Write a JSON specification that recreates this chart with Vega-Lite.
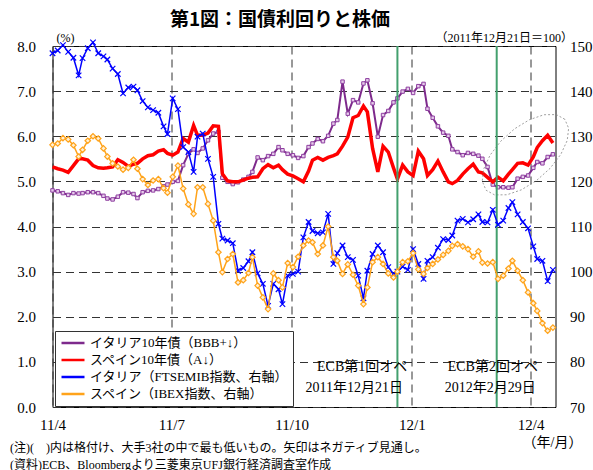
{
"$schema": "https://vega.github.io/schema/vega-lite/v6.json",
"width": 503, "height": 361,
"autosize": {"type": "none"},
"padding": {"left": 52.5, "top": 46, "right": 37.5, "bottom": 63},
"background": "white",
"config": {"view": {"stroke": "black", "strokeWidth": 1}, "font": "Liberation Serif, Noto Sans CJK JP"},
"title": {"text": "第1図：国債利回りと株価", "font": "Noto Sans CJK JP", "fontSize": 19, "fontWeight": "bold", "anchor": "middle", "frame": "group", "dx": -24, "offset": 1, "color": "black"},
"datasets": {
"s": [
{"d":"2011-04-01","a":4.80,"b":5.32,"c":148.4,"e":128.1},
{"d":"2011-04-05","a":4.78,"b":5.28,"c":149.0,"e":128.4},
{"d":"2011-04-09","a":4.74,"b":5.25,"c":150.2,"e":129.6},
{"d":"2011-04-13","a":4.70,"b":5.20,"c":148.7,"e":129.3},
{"d":"2011-04-17","a":4.74,"b":5.35,"c":147.4,"e":128.0},
{"d":"2011-04-21","a":4.73,"b":5.50,"c":143.5,"e":125.5},
{"d":"2011-04-24","a":4.74,"b":5.50,"c":147.3,"e":127.0},
{"d":"2011-04-28","a":4.76,"b":5.47,"c":149.5,"e":129.0},
{"d":"2011-05-02","a":4.76,"b":5.35,"c":150.8,"e":130.0},
{"d":"2011-05-06","a":4.74,"b":5.30,"c":148.4,"e":129.5},
{"d":"2011-05-10","a":4.68,"b":5.29,"c":147.7,"e":127.3},
{"d":"2011-05-13","a":4.62,"b":5.30,"c":147.0,"e":125.5},
{"d":"2011-05-17","a":4.60,"b":5.32,"c":145.0,"e":124.0},
{"d":"2011-05-21","a":4.66,"b":5.48,"c":143.8,"e":123.3},
{"d":"2011-05-25","a":4.76,"b":5.42,"c":139.5,"e":122.6},
{"d":"2011-05-29","a":4.75,"b":5.33,"c":140.8,"e":123.0},
{"d":"2011-06-02","a":4.72,"b":5.38,"c":141.0,"e":124.8},
{"d":"2011-06-05","a":4.63,"b":5.40,"c":140.2,"e":122.8},
{"d":"2011-06-09","a":4.76,"b":5.50,"c":137.8,"e":120.5},
{"d":"2011-06-13","a":4.79,"b":5.57,"c":136.4,"e":119.2},
{"d":"2011-06-17","a":4.80,"b":5.59,"c":135.8,"e":120.2},
{"d":"2011-06-21","a":4.83,"b":5.67,"c":135.2,"e":120.5},
{"d":"2011-06-25","a":4.89,"b":5.70,"c":132.2,"e":118.5},
{"d":"2011-06-28","a":4.93,"b":5.62,"c":130.5,"e":117.5},
{"d":"2011-07-02","a":4.99,"b":5.58,"c":138.4,"e":121.0},
{"d":"2011-07-06","a":5.01,"b":5.65,"c":136.0,"e":123.5},
{"d":"2011-07-10","a":5.36,"b":5.95,"c":127.6,"e":118.4},
{"d":"2011-07-14","a":5.61,"b":5.87,"c":126.5,"e":114.9},
{"d":"2011-07-18","a":5.71,"b":6.24,"c":122.1,"e":112.8},
{"d":"2011-07-21","a":5.63,"b":6.02,"c":129.9,"e":118.7},
{"d":"2011-07-25","a":5.73,"b":6.02,"c":130.6,"e":118.7},
{"d":"2011-07-29","a":5.91,"b":6.07,"c":125.0,"e":115.0},
{"d":"2011-08-02","a":6.06,"b":6.23,"c":121.0,"e":111.3},
{"d":"2011-08-06","a":6.10,"b":6.22,"c":110.6,"e":104.3},
{"d":"2011-08-09","a":5.08,"b":5.17,"c":107.3,"e":99.9},
{"d":"2011-08-13","a":4.99,"b":5.01,"c":106.9,"e":102.8},
{"d":"2011-08-17","a":4.94,"b":4.99,"c":106.3,"e":103.9},
{"d":"2011-08-21","a":4.98,"b":4.99,"c":100.2,"e":97.6},
{"d":"2011-08-25","a":5.04,"b":5.03,"c":100.8,"e":98.1},
{"d":"2011-08-29","a":5.10,"b":5.07,"c":102.3,"e":99.7},
{"d":"2011-09-01","a":5.21,"b":5.09,"c":104.3,"e":103.2},
{"d":"2011-09-05","a":5.53,"b":5.10,"c":99.6,"e":96.9},
{"d":"2011-09-09","a":5.47,"b":5.28,"c":97.3,"e":94.3},
{"d":"2011-09-13","a":5.56,"b":5.37,"c":92.4,"e":91.7},
{"d":"2011-09-17","a":5.61,"b":5.30,"c":97.3,"e":99.6},
{"d":"2011-09-21","a":5.76,"b":5.36,"c":96.1,"e":98.1},
{"d":"2011-09-24","a":5.69,"b":5.26,"c":92.8,"e":96.5},
{"d":"2011-09-28","a":5.61,"b":5.16,"c":99.1,"e":101.9},
{"d":"2011-10-02","a":5.58,"b":5.12,"c":99.5,"e":101.0},
{"d":"2011-10-06","a":5.52,"b":5.06,"c":100.0,"e":103.3},
{"d":"2011-10-10","a":5.56,"b":4.99,"c":107.6,"e":105.8},
{"d":"2011-10-14","a":5.76,"b":5.23,"c":111.0,"e":106.9},
{"d":"2011-10-17","a":5.84,"b":5.47,"c":109.0,"e":106.5},
{"d":"2011-10-21","a":5.94,"b":5.53,"c":108.5,"e":103.9},
{"d":"2011-10-25","a":5.89,"b":5.47,"c":108.7,"e":105.8},
{"d":"2011-10-29","a":6.01,"b":5.53,"c":112.8,"e":110.0},
{"d":"2011-11-02","a":6.28,"b":5.57,"c":101.7,"e":103.2},
{"d":"2011-11-05","a":6.36,"b":5.61,"c":104.1,"e":102.4},
{"d":"2011-11-09","a":7.21,"b":5.78,"c":105.8,"e":99.5},
{"d":"2011-11-13","a":6.50,"b":5.98,"c":103.2,"e":101.6},
{"d":"2011-11-17","a":6.80,"b":6.41,"c":102.6,"e":99.3},
{"d":"2011-11-21","a":6.75,"b":6.46,"c":99.1,"e":96.9},
{"d":"2011-11-25","a":7.17,"b":6.67,"c":94.1,"e":92.8},
{"d":"2011-11-28","a":7.24,"b":6.54,"c":100.2,"e":96.5},
{"d":"2011-12-02","a":6.73,"b":5.73,"c":103.9,"e":102.1},
{"d":"2011-12-06","a":5.99,"b":5.21,"c":105.8,"e":103.2},
{"d":"2011-12-10","a":6.47,"b":5.78,"c":104.3,"e":101.7},
{"d":"2011-12-14","a":6.56,"b":5.65,"c":101.0,"e":99.6},
{"d":"2011-12-18","a":6.75,"b":5.30,"c":99.5,"e":98.7},
{"d":"2011-12-21","a":6.84,"b":5.05,"c":100.0,"e":100.0},
{"d":"2011-12-25","a":6.99,"b":5.36,"c":101.1,"e":102.1},
{"d":"2011-12-29","a":7.05,"b":5.21,"c":100.4,"e":102.3},
{"d":"2012-01-02","a":6.96,"b":5.13,"c":105.0,"e":104.1},
{"d":"2012-01-06","a":7.11,"b":5.67,"c":101.7,"e":100.5},
{"d":"2012-01-10","a":7.16,"b":5.50,"c":98.4,"e":99.5},
{"d":"2012-01-13","a":6.61,"b":5.13,"c":102.4,"e":100.8},
{"d":"2012-01-17","a":6.41,"b":5.26,"c":103.2,"e":101.7},
{"d":"2012-01-21","a":6.22,"b":5.45,"c":105.3,"e":102.7},
{"d":"2012-01-25","a":6.08,"b":5.21,"c":107.2,"e":103.7},
{"d":"2012-01-29","a":6.01,"b":4.99,"c":107.0,"e":104.6},
{"d":"2012-02-01","a":5.71,"b":4.95,"c":108.0,"e":105.7},
{"d":"2012-02-05","a":5.65,"b":5.02,"c":111.3,"e":106.1},
{"d":"2012-02-09","a":5.58,"b":5.16,"c":111.7,"e":105.6},
{"d":"2012-02-13","a":5.63,"b":5.28,"c":110.9,"e":105.0},
{"d":"2012-02-17","a":5.61,"b":5.38,"c":111.6,"e":103.3},
{"d":"2012-02-21","a":5.57,"b":5.21,"c":112.7,"e":104.5},
{"d":"2012-02-24","a":5.50,"b":5.19,"c":111.0,"e":102.0},
{"d":"2012-02-28","a":5.32,"b":5.09,"c":110.9,"e":101.8},
{"d":"2012-03-03","a":4.93,"b":4.99,"c":113.7,"e":102.1},
{"d":"2012-03-07","a":4.87,"b":5.09,"c":110.4,"e":98.4},
{"d":"2012-03-11","a":4.87,"b":5.01,"c":111.3,"e":99.1},
{"d":"2012-03-15","a":4.86,"b":5.16,"c":114.1,"e":100.7},
{"d":"2012-03-18","a":4.87,"b":5.26,"c":115.4,"e":102.4},
{"d":"2012-03-22","a":5.06,"b":5.40,"c":112.7,"e":100.2},
{"d":"2012-03-26","a":5.10,"b":5.41,"c":111.0,"e":98.1},
{"d":"2012-03-30","a":5.13,"b":5.36,"c":109.6,"e":95.4},
{"d":"2012-04-03","a":5.30,"b":5.54,"c":105.6,"e":93.0},
{"d":"2012-04-06","a":5.43,"b":5.75,"c":102.8,"e":91.3},
{"d":"2012-04-10","a":5.40,"b":5.90,"c":102.4,"e":88.6},
{"d":"2012-04-14","a":5.54,"b":6.02,"c":97.9,"e":86.9},
{"d":"2012-04-18","a":5.60,"b":5.85,"c":100.4,"e":87.6}
],
"ecb": [{"d":"2011-12-21"},{"d":"2012-03-06"}],
"ann": [
{"d":"2011-11-24","v":0.89,"t":"ECB第1回オペ"},
{"d":"2011-11-18","v":0.42,"t":"2011年12月21日"},
{"d":"2012-03-03","v":0.89,"t":"ECB第2回オペ"},
{"d":"2012-03-01","v":0.42,"t":"2012年2月29日"}
],
"ell": [{"d":"2012-03-28","v":5.59}]
},
"data": {"name": "s"},
"layer": [
{
"encoding": {"x": {"field": "d", "type": "temporal", "scale": {"type": "utc", "domain": [{"year":2011,"month":4,"date":1,"utc":true},{"year":2012,"month":4,"date":20,"utc":true}]},
  "axis": {"values": [{"year":2011,"month":4,"date":1,"utc":true},{"year":2011,"month":7,"date":1,"utc":true},{"year":2011,"month":10,"date":1,"utc":true},{"year":2012,"month":1,"date":1,"utc":true},{"year":2012,"month":4,"date":1,"utc":true}],
   "format": "%y/%-m", "labelFont": "Liberation Serif", "labelFontSize": 15, "labelColor": "black", "labelPadding": 10, "labelFlush": false, "labelOverlap": false,
   "ticks": false, "domain": false, "grid": true, "gridDash": [8,5], "gridColor": "#333",
   "title": ["(注)(　)内は格付け、大手3社の中で最も低いもの。矢印はネガティブ見通し。", "(資料)ECB、Bloombergより三菱東京UFJ銀行経済調査室作成"],
   "titleX": -43, "titleY": 44, "titleAlign": "left", "titleBaseline": "alphabetic", "titleFont": "Liberation Serif, Noto Sans CJK JP", "titleFontSize": 12, "titleFontWeight": "normal", "titleColor": "black", "titleLineHeight": 17}}},
"layer": [
 {"mark": {"type": "line", "strokeWidth": 2}, "encoding": {
   "y": {"field": "a", "type": "quantitative", "scale": {"domain": [0, 8], "nice": false, "zero": false},
     "axis": {"values": [0,1,2,3,4,5,6,7,8], "format": ".1f", "labelFont": "Liberation Serif", "labelFontSize": 15, "labelColor": "black", "labelPadding": 17, "labelFlush": false, "ticks": false, "domain": false, "grid": true, "gridDash": [8,5], "gridColor": "#333",
       "title": "(%)", "titleAngle": 0, "titleX": 12.5, "titleY": -9, "titleAlign": "center", "titleBaseline": "middle", "titleFont": "Liberation Serif", "titleFontSize": 12, "titleFontWeight": "normal", "titleColor": "black"}},
   "color": {"datum": "イタリア10年債（BBB+↓）", "type": "nominal",
     "scale": {"domain": ["イタリア10年債（BBB+↓）", "スペイン10年債（A↓）", "イタリア（FTSEMIB指数、右軸）", "スペイン（IBEX指数、右軸）"], "range": ["#7E2A8C", "#FF0000", "#0000FF", "#FFA31A"]},
     "legend": {"orient": "none", "legendX": 2.5, "legendY": 285, "title": null, "direction": "vertical", "symbolType": "stroke", "symbolSize": 529, "symbolStrokeWidth": 2.5,
       "labelFont": "Liberation Serif, Noto Sans CJK JP", "labelFontSize": 13, "labelColor": "black", "labelOffset": 4, "labelLimit": 0,
       "strokeColor": "#333", "fillColor": "white", "padding": 5, "rowPadding": 3, "clipHeight": 14}}}},
 {"mark": {"type": "point", "shape": "square", "size": 12, "filled": true, "fill": "#E6CBEA", "stroke": "#8E3FA0", "strokeWidth": 1, "opacity": 1}, "encoding": {"y": {"field": "a", "type": "quantitative"}}},
 {"mark": {"type": "line", "strokeWidth": 3.5}, "encoding": {"y": {"field": "b", "type": "quantitative"}, "color": {"datum": "スペイン10年債（A↓）", "type": "nominal"}}},
 {"data": {"name": "ell"}, "mark": {"type": "point", "shape": "M0.743,-0.669L0.582,-0.758L0.35,-0.755L0.077,-0.662L-0.206,-0.489L-0.465,-0.256L-0.667,0.007L-0.788,0.269L-0.815,0.5L-0.743,0.669L-0.582,0.758L-0.35,0.755L-0.077,0.662L0.206,0.489L0.465,0.256L0.667,-0.007L0.788,-0.269L0.815,-0.5Z", "size": 11236, "filled": false, "color": "#888", "strokeWidth": 0.8, "strokeDash": [2,2], "opacity": 1}, "encoding": {"y": {"field": "v", "type": "quantitative"}}},
 {"data": {"name": "ecb"}, "mark": {"type": "rule", "color": "#43A06E", "strokeWidth": 2}, "encoding": {}},
 {"data": {"name": "ann"}, "mark": {"type": "text", "font": "Liberation Serif, Noto Sans CJK JP", "fontSize": 14, "color": "black", "align": "center", "baseline": "middle"}, "encoding": {"y": {"field": "v", "type": "quantitative"}, "text": {"field": "t", "type": "nominal"}}}
]
},
{
"encoding": {"x": {"field": "d", "type": "temporal", "scale": {"type": "utc", "domain": [{"year":2011,"month":4,"date":1,"utc":true},{"year":2012,"month":4,"date":20,"utc":true}]},
  "axis": {"orient": "top", "labels": false, "ticks": false, "domain": false, "grid": false,
   "title": "（年/月）", "titleX": 529.5, "titleY": 396, "titleAlign": "right", "titleBaseline": "middle", "titleFont": "Liberation Serif, Noto Sans CJK JP", "titleFontSize": 14, "titleFontWeight": "normal", "titleColor": "black"}}},
"layer": [
 {"mark": {"type": "line", "strokeWidth": 1.5}, "encoding": {
   "y": {"field": "c", "type": "quantitative", "scale": {"domain": [70, 150], "nice": false, "zero": false},
     "axis": {"orient": "right", "values": [70,80,90,100,110,120,130,140,150], "format": "d", "labelFont": "Liberation Serif", "labelFontSize": 15, "labelColor": "black", "labelPadding": 14, "labelFlush": false, "ticks": false, "domain": false, "grid": false,
       "title": "（2011年12月21日＝100）", "titleAngle": 0, "titleX": 17, "titleY": -9, "titleAlign": "right", "titleBaseline": "middle", "titleFont": "Liberation Serif, Noto Sans CJK JP", "titleFontSize": 12, "titleFontWeight": "normal", "titleColor": "black"}},
   "color": {"datum": "イタリア（FTSEMIB指数、右軸）", "type": "nominal"}}},
 {"mark": {"type": "point", "shape": "M-1,-1L1,1M1,-1L-1,1", "size": 30, "filled": false, "color": "#0000FF", "strokeWidth": 1.2, "opacity": 1}, "encoding": {"y": {"field": "c", "type": "quantitative"}}},
 {"mark": {"type": "line", "strokeWidth": 1.5}, "encoding": {"y": {"field": "e", "type": "quantitative"}, "color": {"datum": "スペイン（IBEX指数、右軸）", "type": "nominal"}}},
 {"mark": {"type": "point", "shape": "diamond", "size": 30, "filled": true, "fill": "#FFF0D6", "stroke": "#FFA31A", "strokeWidth": 1.2, "opacity": 1}, "encoding": {"y": {"field": "e", "type": "quantitative"}}}
]
}
],
"resolve": {"scale": {"y": "independent", "x": "independent"}}
}
